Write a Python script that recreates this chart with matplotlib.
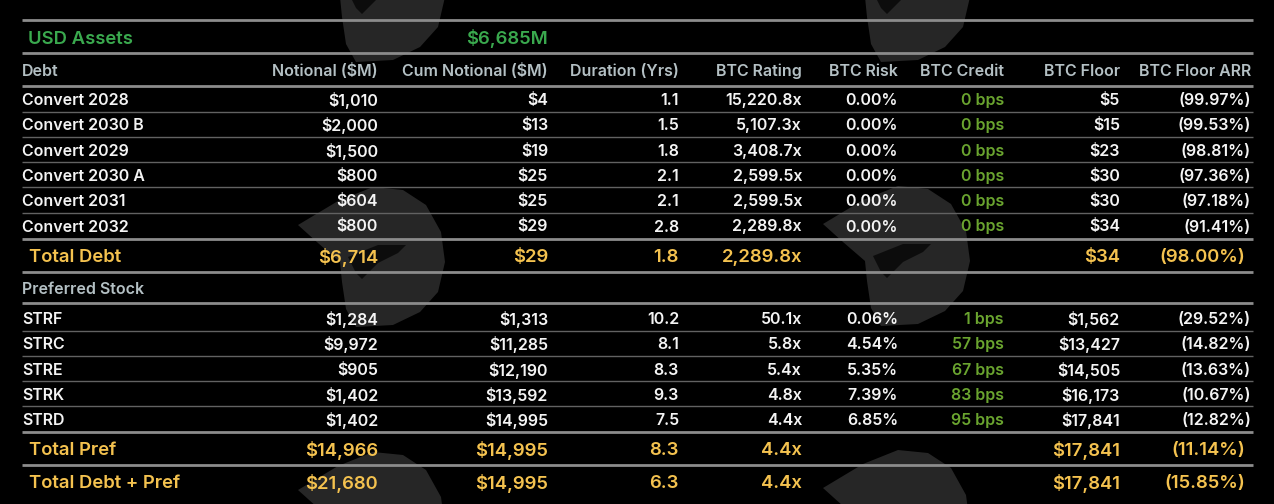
import matplotlib.pyplot as plt
from matplotlib.patches import Polygon

plt.rcParams['font.family'] = ['Inter', 'DejaVu Sans']

columns = ["Debt", "Notional ($M)", "Cum Notional ($M)", "Duration (Yrs)", "BTC Rating",
           "BTC Risk", "BTC Credit", "BTC Floor", "BTC Floor ARR"]
usd_assets = 6685

debt_names = ["Convert 2028", "Convert 2030 B", "Convert 2029", "Convert 2030 A", "Convert 2031", "Convert 2032"]
debt_notional = [1010, 2000, 1500, 800, 604, 800]
debt_cum = [4, 13, 19, 25, 25, 29]
debt_duration = [1.1, 1.5, 1.8, 2.1, 2.1, 2.8]
debt_rating = [15220.8, 5107.3, 3408.7, 2599.5, 2599.5, 2289.8]
debt_risk = [0.00, 0.00, 0.00, 0.00, 0.00, 0.00]
debt_credit = [0, 0, 0, 0, 0, 0]
debt_floor = [5, 15, 23, 30, 30, 34]
debt_arr = [-99.97, -99.53, -98.81, -97.36, -97.18, -91.41]

pref_names = ["STRF", "STRC", "STRE", "STRK", "STRD"]
pref_notional = [1284, 9972, 905, 1402, 1402]
pref_cum = [1313, 11285, 12190, 13592, 14995]
pref_duration = [10.2, 8.1, 8.3, 9.3, 7.5]
pref_rating = [50.1, 5.8, 5.4, 4.8, 4.4]
pref_risk = [0.06, 4.54, 5.35, 7.39, 6.85]
pref_credit = [1, 57, 67, 83, 95]
pref_floor = [1562, 13427, 14505, 16173, 17841]
pref_arr = [-29.52, -14.82, -13.63, -10.67, -12.82]

total_names = ["Total Debt", "Total Pref", "Total Debt + Pref"]
total_notional = [6714, 14966, 21680]
total_cum = [29, 14995, 14995]
total_duration = [1.8, 8.3, 6.3]
total_rating = [2289.8, 4.4, 4.4]
total_floor = [34, 17841, 17841]
total_arr = [-98.00, -11.14, -15.85]

# ---- styling ----
BG = '#000000'
WHITE = '#f4f4f4'
HEAD = '#b4c0c4'
GREEN = '#3aa94e'
YELLOW = '#f4c24f'
BPS = '#6aa42f'
FW = 'semibold'
SMALL = 11.5
BIG = 13.3
x_left = 22
x_right = [378, 548, 679, 802, 898, 1004, 1120, 1251]

# rough outline of the faint logo watermark (pixels, relative to its top-left)
logo_shape = [(0, 38), (40, 14), (75, 0), (105, 3), (128, 18), (143, 45), (147, 75),
              (140, 105), (122, 125), (95, 138), (58, 140), (48, 122), (44, 95),
              (42, 75), (20, 56)]
logo_cut = [(50, 70), (80, 58), (108, 58), (100, 66), (80, 76), (64, 92), (58, 86)]
logo_spots = [(298, -78), (823, -78), (298, 187), (823, 186), (298, 452), (823, 450)]


def money(v):
    return f"${v:,.0f}"


def arr(v):
    return f"({abs(v):.2f}%)"


def row_cells(n, cum, dur, rat, risk, cred, flo, ar):
    return [money(n), money(cum), f"{dur:.1f}", f"{rat:,.1f}x",
            "" if risk is None else f"{risk:.2f}%",
            "" if cred is None else f"{cred} bps",
            money(flo), arr(ar)]


fig = plt.figure(figsize=(12.74, 5.04), dpi=100, facecolor=BG)
ax = fig.add_axes([0, 0, 1, 1])
ax.set_xlim(0, 1274)
ax.set_ylim(504, 0)
ax.axis('off')
ax.set_facecolor(BG)

for ox, oy in logo_spots:
    ax.add_patch(Polygon([(ox + px, oy + py) for px, py in logo_shape], closed=True,
                         facecolor='#262626', edgecolor='none', zorder=1))
    ax.add_patch(Polygon([(ox + px, oy + py) for px, py in logo_cut], closed=True,
                         facecolor='#0c0c0c', edgecolor='none', zorder=1))


def hline(y, major=False):
    ax.plot([x_left, 1253], [y, y], color='#8c8c8c' if major else '#626262',
            lw=2.0 if major else 1.0, solid_capstyle='butt', zorder=2)


def put_row(y, name, cells, size=SMALL, color=WHITE, indent=0, rshift=0):
    ax.text(x_left + indent, y, name, color=color, fontsize=size, fontweight=FW,
            ha='left', va='center_baseline', zorder=3)
    for i, (xr, c) in enumerate(zip(x_right, cells)):
        col = BPS if (i == 5 and color == WHITE) else color
        xx = xr - rshift if i == 7 else xr
        ax.text(xx, y, c, color=col, fontsize=size, fontweight=FW,
                ha='right', va='center_baseline', zorder=3)


# top block
hline(20, True)
ax.text(28, 37, "USD Assets", color=GREEN, fontsize=BIG, fontweight=FW, ha='left', va='center_baseline')
ax.text(x_right[1], 37, f"${usd_assets:,}M", color=GREEN, fontsize=BIG, fontweight=FW,
        ha='right', va='center_baseline')
hline(53, True)

# header
ax.text(x_left, 70, columns[0], color=HEAD, fontsize=SMALL, fontweight=FW, ha='left', va='center_baseline')
for xr, c in zip(x_right, columns[1:]):
    ax.text(xr, 70, c, color=HEAD, fontsize=SMALL, fontweight=FW, ha='right', va='center_baseline')
hline(86, True)

# debt rows
row_h = 25.3
y = 99
for i, nm in enumerate(debt_names):
    put_row(y, nm, row_cells(debt_notional[i], debt_cum[i], debt_duration[i], debt_rating[i],
                             debt_risk[i], debt_credit[i], debt_floor[i], debt_arr[i]))
    if i < len(debt_names) - 1:
        hline(y + 12.5)
    y += row_h
hline(239, True)

tot_cells = [row_cells(total_notional[k], total_cum[k], total_duration[k], total_rating[k],
                       None, None, total_floor[k], total_arr[k]) for k in range(3)]
put_row(255.5, total_names[0], tot_cells[0], size=BIG, color=YELLOW, indent=7, rshift=6)
hline(272, True)

ax.text(x_left, 288, "Preferred Stock", color=HEAD, fontsize=SMALL, fontweight=FW, ha='left', va='center_baseline')
hline(303, True)

y = 318
for i, nm in enumerate(pref_names):
    put_row(y, nm, row_cells(pref_notional[i], pref_cum[i], pref_duration[i], pref_rating[i],
                             pref_risk[i], pref_credit[i], pref_floor[i], pref_arr[i]))
    if i < len(pref_names) - 1:
        hline(y + 12.5)
    y += row_h
hline(432, True)

put_row(448.5, total_names[1], tot_cells[1], size=BIG, color=YELLOW, indent=7, rshift=6)
hline(465, True)
put_row(481.5, total_names[2], tot_cells[2], size=BIG, color=YELLOW, indent=7, rshift=6)

fig.savefig('out.png', dpi=100, facecolor=BG)
